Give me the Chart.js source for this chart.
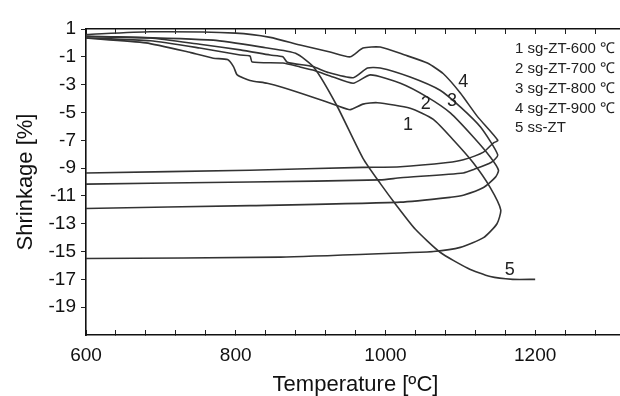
<!DOCTYPE html>
<html><head><meta charset="utf-8">
<script src="https://cdn.jsdelivr.net/npm/chart.js@4/dist/chart.umd.min.js"></script>
<style>html,body{margin:0;padding:0;overflow:hidden;background:#fff;width:620px;height:396px}canvas{display:block}</style>
</head><body>
<canvas id="c" width="625" height="396"></canvas>
<script>
// ---- data ----
const xTickValues = [600,640,680,720,760,800,840,880,920,960,1000,1040,1080,1120,1160,1200,1240,1280,1320];
const xTickLabels = [600,800,1000,1200];
const yTickValues = [1,-1,-3,-5,-7,-9,-11,-13,-15,-17,-19];

const seriesNames = ['1 sg-ZT-600 \u2103','2 sg-ZT-700 \u2103','3 sg-ZT-800 \u2103','4 sg-ZT-900 \u2103','5 ss-ZT'];
const curveLabels = ['1','2','3','4','5'];
const labelT = [1030,1054,1089,1104,1166];
const labelS = [-5.9,-4.4,-4.2,-2.8,-16.3];

const c1T = [600,680,740,770,789,797,802,819,842,863,903,935,953,970,989,1033,1064,1091,1117,1140,1154,1149,1131,1100,1064,1020,860,600];
const c1S = [0.35,0.0,-0.7,-1.1,-1.2,-1.7,-2.3,-2.7,-2.9,-3.2,-3.9,-4.5,-4.8,-4.4,-4.3,-4.7,-5.5,-7.0,-8.6,-10.4,-12.0,-13.0,-14.0,-14.7,-15.0,-15.1,-15.4,-15.5];

const c2T = [600,686,752,806,819,822,863,886,903,930,957,980,1020,1056,1087,1118,1140,1151,1147,1131,1104,1087,1020,819,600];
const c2S = [0.35,0.15,-0.37,-0.87,-0.94,-1.37,-1.45,-1.73,-1.95,-2.45,-2.9,-2.3,-2.9,-3.9,-5.05,-6.8,-8.2,-9.15,-9.65,-10.4,-10.95,-11.1,-11.45,-11.7,-11.9];

const c3T = [600,686,752,806,846,863,869,903,922,957,976,993,1033,1073,1100,1127,1150,1141,1118,1104,1020,993,819,600];
const c3S = [0.45,0.35,-0.1,-0.5,-0.87,-1.0,-1.4,-1.7,-2.1,-2.5,-1.8,-1.8,-2.45,-3.4,-4.6,-6.05,-8.05,-8.6,-9.1,-9.35,-9.7,-9.85,-10.0,-10.15];

const c4T = [600,686,800,846,886,926,953,970,993,1026,1056,1077,1100,1123,1150,1144,1131,1104,1083,1020,970,819,600];
const c4S = [0.6,0.8,0.7,0.4,-0.15,-0.65,-1.0,-0.37,-0.3,-0.87,-1.45,-2.2,-3.6,-5.3,-7.0,-7.2,-7.85,-8.4,-8.6,-8.9,-8.95,-9.15,-9.35];

const c5T = [600,770,840,880,905,935,970,993,1015,1040,1073,1110,1140,1170,1200];
const c5S = [0.5,0.2,-0.35,-0.75,-1.8,-4.5,-8.3,-10.1,-11.7,-13.4,-15.05,-16.2,-16.8,-17.0,-17.0];

const curvesT = [c1T,c2T,c3T,c4T,c5T];
const curvesS = [c1S,c2S,c3S,c4S,c5S];

// ---- chart ----
const FONT = "'Liberation Sans', Arial, sans-serif";
Chart.defaults.font.family = FONT;
Chart.defaults.color = '#111';

const datasets = curvesT.map((T,i)=>({
  label: seriesNames[i],
  data: T.map((t,j)=>({x:t, y:curvesS[i][j]})),
  showLine: true,
  pointRadius: 0,
  borderColor: '#333',
  borderWidth: 1.6,
  tension: 0.2,
  fill: false
}));

const textPlugin = {
  id: 'texts',
  afterDatasetsDraw(chart){
    const ctx = chart.ctx, xs = chart.scales.x, ys = chart.scales.y;
    ctx.save();
    ctx.fillStyle = '#222';
    ctx.textAlign = 'center';
    ctx.textBaseline = 'middle';
    ctx.font = '18px ' + FONT;
    curveLabels.forEach((l,i)=>{
      ctx.fillText(l, xs.getPixelForValue(labelT[i]), ys.getPixelForValue(labelS[i]));
    });
    ctx.textAlign = 'left';
    ctx.font = '15px ' + FONT;
    seriesNames.forEach((n,i)=>{
      ctx.fillText(n, 515, 49 + i*19.8);
    });
    ctx.restore();
  }
};

function noPad(s){ s.paddingLeft = 0; s.paddingRight = 0; }

new Chart(document.getElementById('c'), {
  type: 'scatter',
  data: { datasets },
  plugins: [textPlugin],
  options: {
    responsive: false,
    animation: false,
    layout: { padding: { top: 29, left: 0, right: 0, bottom: 0 } },
    plugins: { legend: { display: false }, tooltip: { enabled: false } },
    scales: {
      x: {
        type: 'linear', position: 'bottom', min: 600, max: 1320,
        afterFit(s){ s.height = 61; noPad(s); },
        afterBuildTicks(s){ s.ticks = xTickValues.map(v=>({value:v})); },
        ticks: { autoSkip: false, maxRotation: 0, padding: 14, color: '#111',
          font: { size: 19 },
          callback: (v)=> xTickLabels.includes(v) ? String(v) : '' },
        grid: { drawOnChartArea: false, tickLength: -5, tickColor: '#222', tickWidth: 1 },
        border: { color: '#111', width: 1.6 },
        title: { display: true, text: 'Temperature [\u00baC]', color: '#111',
          font: { size: 22, lineHeight: 1 }, padding: { top: 0, bottom: 0 } }
      },
      x2: {
        type: 'linear', position: 'top', min: 600, max: 1320,
        afterFit(s){ s.height = 0; noPad(s); },
        afterBuildTicks(s){ s.ticks = xTickValues.map(v=>({value:v})); },
        ticks: { display: false },
        grid: { drawOnChartArea: false, tickLength: -5, tickColor: '#222' },
        border: { color: '#111', width: 1.6 }
      },
      y: {
        type: 'linear', position: 'left', min: -21, max: 1,
        afterFit(s){ s.width = 86; },
        afterBuildTicks(s){ s.ticks = yTickValues.map(v=>({value:v})); },
        ticks: { padding: 5, color: '#111', font: { size: 19 } },
        grid: { drawOnChartArea: false, tickLength: 5, tickColor: '#222' },
        border: { color: '#111', width: 1.6 },
        title: { display: true, text: 'Shrinkage [%]', color: '#111',
          font: { size: 22, lineHeight: 1 }, padding: { top: 15, bottom: 0 } }
      }
    }
  }
});
</script>
</body></html>
